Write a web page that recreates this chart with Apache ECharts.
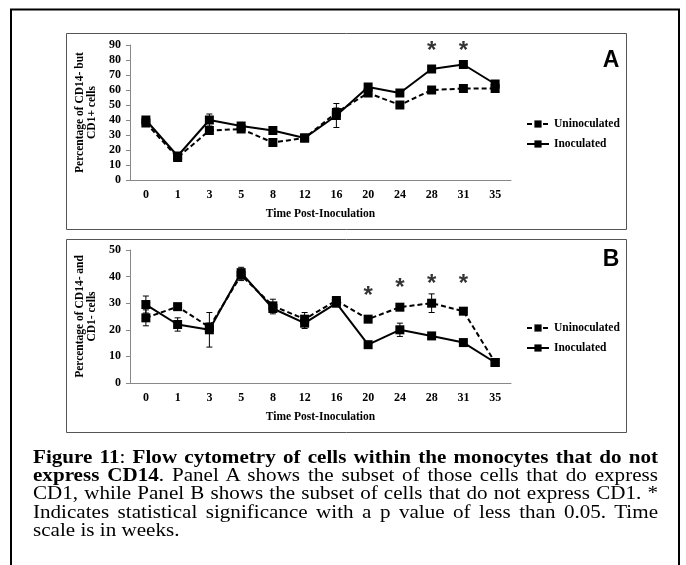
<!DOCTYPE html>
<html>
<head>
<meta charset="utf-8">
<script src="https://cdn.jsdelivr.net/npm/echarts@6/dist/echarts.min.js"></script>
<style>
  html, body { margin: 0; padding: 0; background: #fff; }
  #wrap { position: relative; width: 686px; height: 565px; overflow: hidden; }
  #chart { position: absolute; left: 0; top: 0; width: 686px; height: 565px; }
  #caption {
    position: absolute; left: 33px; top: 447px; width: 625px;
    font-family: "Liberation Serif", "Times New Roman", serif;
    font-size: 21.1px; line-height: 20px; color: #000;
    text-align: justify;
    transform: scaleY(0.92); transform-origin: 0 0;
  }
</style>
</head>
<body>
<div id="wrap">
  <div id="chart"></div>
  <div id="caption"><b>Figure 11</b>: <b>Flow cytometry of cells within the monocytes that do not express CD14</b>. Panel A shows the subset of those cells that do express CD1, while Panel B shows the subset of cells that do not express CD1. * Indicates statistical significance with a p value of less than 0.05. Time scale is in weeks.</div>
</div>
<script>
// time points (weeks)
var weeks = ['0', '1', '3', '5', '8', '12', '16', '20', '24', '28', '31', '35'];

// panel A: CD14- but CD1+ cells (%)
var aUninoc = [38, 15, 33, 34, 25, 28, 45, 58, 50, 60, 61, 61];
var aInoc = [40, 16, 40, 36, 33, 28, 43, 62, 58, 74, 77, 64];
var aUninocErr = [2, 2, 2, 2, 2, 2, 3, 2, 2, 2, 2, 2];
var aInocErr = [2, 2, 4, 2, 2, 2, 8, 2, 2, 2, 2, 2];
var aStarWeeks = ['28', '31'];
var aStarY = [90, 90];

// panel B: CD14- and CD1- cells (%)
var bUninoc = [24.5, 28.7, 21, 40.5, 29, 24, 31, 24, 28.5, 30, 27, 7.7];
var bInoc = [29.5, 22, 20, 41.5, 28, 22.5, 30, 14.4, 20, 17.7, 15.2, 7.7];
var bUninocErr = [3, 1, 1.5, 2, 2.5, 2.5, 1.5, 1, 1, 3.5, 1, 1];
var bInocErr = [3.2, 2.5, 6.5, 2, 2, 2, 1, 1, 2.5, 1, 1, 1];
var bStarWeeks = ['20', '24', '28', '31'];
var bStarY = [35, 38, 39.5, 39.5];

var serif = '"Liberation Serif", "Times New Roman", serif';
var sans = '"Liberation Sans", Arial, sans-serif';

var chart = echarts.init(document.getElementById('chart'));

function xAxisFor(gi) {
  return {
    type: 'category', gridIndex: gi, data: weeks,
    name: 'Time Post-Inoculation', nameLocation: 'middle', nameGap: 28,
    nameTextStyle: { fontFamily: serif, fontWeight: 'bold', fontSize: 11.5, color: '#000' },
    axisLine: { lineStyle: { color: '#888', width: 1 } },
    axisTick: { inside: true, length: 3, lineStyle: { color: '#888' } },
    axisLabel: { fontFamily: serif, fontWeight: 'bold', fontSize: 12, color: '#000', margin: 9 },
    splitLine: { show: false }
  };
}

function yAxisFor(gi, max, name) {
  return {
    type: 'value', gridIndex: gi, min: 0, max: max, interval: 10,
    name: name, nameLocation: 'middle', nameGap: 30,
    nameTextStyle: { fontFamily: serif, fontWeight: 'bold', fontSize: 11.5, lineHeight: 12, color: '#000' },
    axisLine: { show: true, lineStyle: { color: '#888', width: 1 } },
    axisTick: { show: true, length: 4, lineStyle: { color: '#888' } },
    axisLabel: { fontFamily: serif, fontWeight: 'bold', fontSize: 12, color: '#000', margin: 9 },
    splitLine: { show: false }
  };
}

function lineSeries(name, gi, vals, dashed) {
  return {
    name: name, type: 'line', xAxisIndex: gi, yAxisIndex: gi, data: vals,
    symbol: 'rect', symbolSize: 9, showAllSymbol: true,
    itemStyle: { color: '#000' },
    lineStyle: { color: '#000', width: 2, type: dashed ? [5, 3] : 'solid' },
    emphasis: { disabled: true }, z: 3
  };
}

function errSeries(gi, vals, errs) {
  return {
    type: 'custom', xAxisIndex: gi, yAxisIndex: gi, silent: true, z: 2,
    data: vals.map(function (v, i) { return [i, v - errs[i], v + errs[i]]; }),
    renderItem: function (params, api) {
      var lo = api.coord([api.value(0), api.value(1)]);
      var hi = api.coord([api.value(0), api.value(2)]);
      var w = 3, st = { stroke: '#000', lineWidth: 1 };
      return {
        type: 'group', children: [
          { type: 'line', shape: { x1: lo[0], y1: lo[1], x2: hi[0], y2: hi[1] }, style: st },
          { type: 'line', shape: { x1: lo[0] - w, y1: lo[1], x2: lo[0] + w, y2: lo[1] }, style: st },
          { type: 'line', shape: { x1: hi[0] - w, y1: hi[1], x2: hi[0] + w, y2: hi[1] }, style: st }
        ]
      };
    }
  };
}

// significance markers
function starSeries(gi, ws, ys) {
  return {
    type: 'scatter', xAxisIndex: gi, yAxisIndex: gi, silent: true, z: 5,
    symbol: 'circle', symbolSize: 2, itemStyle: { color: 'rgba(0,0,0,0)' },
    data: ws.map(function (w, i) { return [w, ys[i]]; }),
    label: {
      show: true, position: 'inside', formatter: '*', offset: [0, 6],
      fontFamily: sans, fontWeight: 'bold', fontSize: 24, color: '#000'
    }
  };
}

function legendFor(top) {
  return {
    orient: 'vertical', left: 521, top: top, itemGap: 8,
    itemWidth: 22, itemHeight: 9,
    data: ['Uninoculated', 'Inoculated'],
    textStyle: { fontFamily: serif, fontWeight: 'bold', fontSize: 11.5, color: '#000' }
  };
}

chart.setOption({
  animation: false,
  backgroundColor: '#fff',
  grid: [
    { left: 130, top: 45, width: 381, height: 135 },
    { left: 130, top: 250, width: 381, height: 133 }
  ],
  xAxis: [xAxisFor(0), xAxisFor(1)],
  yAxis: [
    yAxisFor(0, 90, 'Percentage of CD14- but\nCD1+ cells'),
    yAxisFor(1, 50, 'Percentage of CD14- and\nCD1- cells')
  ],
  legend: [legendFor(113), legendFor(317)],
  series: [
    errSeries(0, aUninoc, aUninocErr),
    errSeries(0, aInoc, aInocErr),
    lineSeries('Uninoculated', 0, aUninoc, true),
    lineSeries('Inoculated', 0, aInoc, false),
    starSeries(0, aStarWeeks, aStarY),
    errSeries(1, bUninoc, bUninocErr),
    errSeries(1, bInoc, bInocErr),
    lineSeries('Uninoculated', 1, bUninoc, true),
    lineSeries('Inoculated', 1, bInoc, false),
    starSeries(1, bStarWeeks, bStarY)
  ],
  graphic: [
    { type: 'rect', shape: { x: 11, y: 9.5, width: 668, height: 600 }, style: { fill: 'none', stroke: '#000', lineWidth: 2 }, silent: true },
    { type: 'rect', shape: { x: 66.5, y: 33.5, width: 560, height: 196 }, style: { fill: 'none', stroke: '#555', lineWidth: 1 }, silent: true },
    { type: 'rect', shape: { x: 66.5, y: 239.5, width: 560, height: 193 }, style: { fill: 'none', stroke: '#555', lineWidth: 1 }, silent: true },
    { type: 'text', x: 611, y: 61, style: { text: 'A', font: 'bold 23px "Liberation Sans", Arial, sans-serif', fill: '#000', align: 'center', verticalAlign: 'middle' }, silent: true },
    { type: 'text', x: 611, y: 260, style: { text: 'B', font: 'bold 23px "Liberation Sans", Arial, sans-serif', fill: '#000', align: 'center', verticalAlign: 'middle' }, silent: true }
  ]
});
</script>
</body>
</html>
